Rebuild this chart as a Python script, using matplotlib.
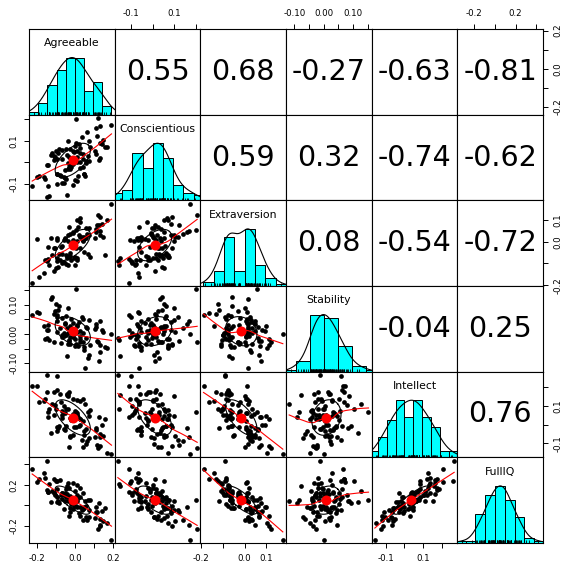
import numpy as np
import matplotlib
matplotlib.use("Agg")
import matplotlib.pyplot as plt

names = ["Agreeable", "Conscientious", "Extraversion", "Stability", "Intellect", "FullIQ"]

agreeable = [
    -0.223, -0.143, -0.186, -0.091, -0.134, -0.162, -0.094, -0.140, -0.033, -0.154,
    -0.100, -0.196, -0.068, -0.039, -0.110, -0.142, -0.078, -0.024, -0.120, -0.045,
    -0.091, 0.013, -0.109, -0.059, -0.030, -0.126, -0.001, -0.073, -0.048, -0.144,
    0.010, -0.065, -0.011, -0.086, -0.033, 0.046, -0.104, 0.000, -0.050, 0.029,
    -0.021, -0.068, 0.047, -0.039, 0.015, -0.085, 0.044, -0.006, -0.053, 0.026,
    -0.024, 0.080, -0.095, 0.009, 0.059, -0.038, 0.041, -0.009, 0.070, -0.055,
    0.024, 0.128, -0.023, 0.056, 0.006, 0.110, -0.011, 0.039, 0.158, -0.029,
    0.075, 0.025, 0.104, 0.008, 0.061, 0.140, 0.044, 0.112, 0.026, 0.130,
    0.118, 0.013, 0.145, 0.074, 0.131, 0.064, 0.171, 0.133, 0.123, 0.192]

conscientious = [
    -0.112, -0.163, -0.062, -0.103, -0.158, -0.068, 0.013, -0.110, -0.030, -0.078,
    0.050, -0.071, -0.095, -0.152, 0.010, -0.013, -0.060, -0.033, 0.045, -0.080,
    -0.053, 0.000, 0.028, -0.098, -0.020, 0.033, -0.083, -0.065, 0.060, -0.013,
    -0.088, 0.015, -0.108, 0.043, -0.005, -0.053, 0.023, 0.075, -0.075, 0.003,
    -0.023, 0.055, -0.057, 0.033, -0.065, 0.060, 0.013, 0.046, -0.035, 0.043,
    -0.008, 0.070, -0.055, 0.023, -0.003, 0.100, -0.023, 0.053, 0.030, -0.070,
    0.083, 0.010, 0.060, -0.066, 0.088, 0.040, -0.008, 0.118, 0.070, 0.023,
    0.100, -0.025, 0.053, 0.203, 0.008, 0.085, 0.038, 0.158, 0.068, 0.020,
    0.123, 0.050, 0.105, 0.008, 0.088, 0.143, 0.073, 0.168, 0.207, 0.172]

extraversion = [
    -0.189, -0.089, -0.162, -0.090, -0.106, -0.143, -0.074, -0.078, -0.108, -0.084,
    -0.123, 0.012, -0.097, -0.073, -0.133, -0.025, -0.086, -0.066, -0.059, -0.101,
    0.007, -0.075, -0.030, -0.093, -0.072, 0.018, -0.108, -0.022, -0.061, -0.082,
    0.005, -0.058, 0.008, -0.118, 0.032, -0.048, -0.029, -0.068, 0.016, 0.021,
    -0.086, -0.021, 0.024, -0.064, 0.069, -0.057, 0.009, -0.075, 0.013, -0.028,
    0.035, -0.069, 0.017, -0.085, 0.062, 0.002, 0.006, 0.046, -0.058, 0.007,
    0.031, 0.076, -0.051, 0.015, -0.027, 0.060, 0.042, 0.024, -0.061, 0.068,
    0.029, 0.092, 0.017, 0.056, 0.016, 0.082, 0.004, 0.046, 0.111, 0.030,
    0.075, 0.099, 0.020, 0.065, 0.112, 0.034, 0.102, 0.048, 0.122, 0.176]

stability = [
    0.066, -0.013, 0.071, 0.058, -0.021, 0.027, 0.064, 0.012, -0.034, -0.018,
    0.103, 0.074, -0.004, -0.076, 0.069, 0.031, 0.021, -0.012, 0.127, -0.002,
    0.043, 0.029, -0.026, 0.004, -0.019, 0.118, -0.042, -0.031, 0.062, 0.015,
    -0.038, -0.011, -0.009, 0.082, 0.002, -0.044, 0.079, -0.016, 0.033, -0.006,
    0.051, 0.056, -0.056, 0.019, -0.041, 0.094, 0.052, -0.001, 0.036, -0.027,
    -0.036, -0.039, 0.005, 0.007, -0.014, 0.088, 0.003, 0.011, -0.083, -0.008,
    0.041, -0.092, 0.026, -0.118, -0.033, 0.023, 0.038, 0.058, -0.046, -0.024,
    0.047, 0.009, 0.018, 0.153, 0.024, 0.014, -0.029, 0.034, -0.017, -0.063,
    -0.023, 0.028, 0.006, -0.071, -0.037, 0.021, -0.047, 0.045, -0.028, 0.001]

intellect = [
    0.203, 0.265, 0.120, 0.260, 0.081, 0.125, 0.182, 0.042, 0.162, 0.134,
    0.081, 0.203, 0.051, 0.158, 0.176, 0.067, 0.165, 0.037, 0.109, 0.084,
    -0.014, 0.129, 0.051, 0.101, 0.173, -0.043, 0.070, 0.118, -0.008, 0.171,
    0.062, 0.037, 0.134, -0.019, 0.082, -0.058, 0.104, 0.051, -0.027, 0.123,
    0.023, 0.071, -0.032, 0.163, 0.040, -0.009, 0.137, -0.013, 0.060, 0.032,
    -0.068, 0.079, -0.036, 0.051, -0.024, 0.152, 0.021, -0.054, 0.068, -0.022,
    -0.010, 0.038, -0.061, 0.110, -0.015, -0.031, 0.054, -0.083, 0.027, -0.121,
    0.046, -0.004, -0.067, 0.066, -0.104, -0.004, -0.118, -0.021, 0.027, -0.051,
    -0.108, 0.044, -0.062, -0.072, -0.112, -0.088, -0.152, -0.065, -0.126, -0.158]

fulliq = [
    0.350, 0.435, 0.259, 0.240, 0.207, 0.318, 0.160, 0.129, 0.218, 0.263,
    0.232, 0.227, 0.121, 0.191, 0.260, 0.130, 0.246, 0.094, 0.138, 0.163,
    0.083, 0.202, 0.122, 0.097, 0.166, 0.036, 0.136, 0.105, 0.080, 0.150,
    0.044, 0.119, 0.214, 0.039, 0.083, -0.022, 0.103, 0.047, 0.122, 0.167,
    0.017, 0.061, -0.020, 0.106, 0.075, 0.025, 0.120, -0.006, 0.039, 0.084,
    -0.067, 0.053, 0.028, 0.098, -0.003, 0.042, -0.039, -0.039, 0.056, -0.031,
    -0.075, 0.020, -0.030, 0.040, -0.011, -0.066, 0.054, -0.047, -0.027, -0.108,
    -0.044, -0.013, -0.124, 0.051, -0.117, -0.060, -0.141, -0.021, -0.102, -0.132,
    -0.063, -0.018, -0.154, -0.110, -0.196, -0.139, -0.168, -0.188, -0.231, -0.335]

# correlations printed in the upper panels (row-wise upper triangle)
correlations = [0.55, 0.68, -0.27, -0.63, -0.81,
                0.59, 0.32, -0.74, -0.62,
                0.08, -0.54, -0.72,
                -0.04, 0.25,
                0.76]

tick_values = [
    [-0.2, -0.1, 0.0, 0.1, 0.2],
    [-0.1, 0.0, 0.1, 0.2],
    [-0.2, -0.1, 0.0, 0.1],
    [-0.10, -0.05, 0.0, 0.05, 0.10, 0.15],
    [-0.1, 0.0, 0.1, 0.2],
    [-0.2, 0.0, 0.2, 0.4],
]
tick_labels = [
    ["-0.2", "", "0.0", "", "0.2"],
    ["-0.1", "", "0.1", ""],
    ["-0.2", "", "0.0", "0.1"],
    ["-0.10", "", "0.00", "", "0.10", ""],
    ["-0.1", "", "0.1", ""],
    ["-0.2", "", "0.2", ""],
]
hist_bin_width = [0.05, 0.05, 0.05, 0.05, 0.05, 0.1]

data = [np.array(v, dtype=float) for v in
        (agreeable, conscientious, extraversion, stability, intellect, fulliq)]
n_var = len(data)


def lowess(x, y, f=2.0 / 3.0, iters=3):
    order = np.argsort(x, kind="mergesort")
    x = x[order]
    y = y[order]
    n = len(x)
    r = int(np.ceil(f * n))
    h = np.array([np.sort(np.abs(x - x[i]))[r - 1] for i in range(n)])
    h[h == 0] = 1e-9
    w = np.clip(np.abs((x[:, None] - x[None, :]) / h[None, :]), 0.0, 1.0)
    w = (1 - w ** 3) ** 3
    yest = np.zeros(n)
    delta = np.ones(n)
    for _ in range(iters + 1):
        for i in range(n):
            wt = delta * w[:, i]
            A = np.array([[wt.sum(), (wt * x).sum()], [(wt * x).sum(), (wt * x * x).sum()]])
            b = np.array([(wt * y).sum(), (wt * y * x).sum()])
            beta = np.linalg.lstsq(A, b, rcond=None)[0]
            yest[i] = beta[0] + beta[1] * x[i]
        res = y - yest
        s = np.median(np.abs(res))
        if s == 0:
            break
        d = np.clip(res / (6.0 * s), -1, 1)
        delta = (1 - d ** 2) ** 2
    return x, yest


def density(x, adjust=1.2):
    n = len(x)
    sd = np.std(x, ddof=1)
    q75, q25 = np.percentile(x, [75, 25])
    bw = 1.06 * min(sd, (q75 - q25) / 1.34) * n ** (-0.2) * adjust
    grid = np.linspace(x.min() - 3 * bw, x.max() + 3 * bw, 512)
    dens = np.exp(-0.5 * ((grid[:, None] - x[None, :]) / bw) ** 2).sum(axis=1)
    return grid, dens / dens.max()


lims = []
for v in data:
    lo, hi = v.min(), v.max()
    pad = 0.04 * (hi - lo)
    lims.append((lo - pad, hi + pad))

fig = plt.figure(figsize=(5.65, 5.65), dpi=100)
W = 565.0
left0, top0, size = 29 / W, 29 / W, (543 - 29) / W / 6

tick_fs = 6.2
axis_lw = 0.7

cor_iter = iter(correlations)
cor_map = {}
for i in range(n_var):
    for j in range(i + 1, n_var):
        cor_map[(i, j)] = next(cor_iter)

for i in range(n_var):
    for j in range(n_var):
        ax = fig.add_axes([left0 + j * size, 1 - top0 - (i + 1) * size, size, size])
        for sp in ax.spines.values():
            sp.set_linewidth(0.8)
        ax.set_xticks([])
        ax.set_yticks([])
        if i == j:
            u1, u2 = lims[i]
            ax.set_xlim(u1 - abs(0.05 * u1), u2 + abs(0.05 * u2))
            ax.set_ylim(0, 1.5)
            v = data[i]
            bw_ = hist_bin_width[i]
            start = np.floor(v.min() / bw_ - 1e-9) * bw_
            stop = np.ceil(v.max() / bw_ + 1e-9) * bw_
            edges = np.arange(start, stop + bw_ / 2, bw_)
            counts, edges = np.histogram(v, bins=edges)
            heights = counts / counts.max()
            ax.bar(edges[:-1], heights, width=np.diff(edges), align="edge",
                   color="#00FFFF", edgecolor="black", linewidth=0.7)
            gx, gy = density(v)
            ax.plot(gx, gy, color="black", lw=0.8)
            ax.vlines(v, 0, 0.045, color="black", lw=0.6)
            ax.text(0.5, 0.8333, names[i], transform=ax.transAxes,
                    ha="center", va="center", fontsize=7.8)
        elif i < j:
            ax.set_xlim(*lims[j])
            ax.set_ylim(*lims[i])
            ax.text(0.5, 0.5, "%.2f" % cor_map[(i, j)], transform=ax.transAxes,
                    ha="center", va="center", fontsize=20.5)
        else:
            x = data[j]
            y = data[i]
            ax.set_xlim(*lims[j])
            ax.set_ylim(*lims[i])
            ax.plot(x, y, "o", ms=3.4, color="black", mec="none")
            xm, ym = x.mean(), y.mean()
            xs, ys = x.std(ddof=1), y.std(ddof=1)
            r = np.corrcoef(x, y)[0, 1]
            lx, ly = lowess(x, y)
            ax.plot(lx, ly, color="red", lw=0.8)
            ax.plot(xm, ym, "o", ms=7.2, color="red", mec="none")
            ang = np.linspace(0, 2 * np.pi, 52)
            theta = np.sign(r) / np.sqrt(2) if abs(r) > 0 else 1 / np.sqrt(2)
            c, s = np.cos(ang), np.sin(ang)
            ex = (c * np.sqrt(1 + r) * theta - s * np.sqrt(1 - r) * theta) * xs + xm
            ey = (c * np.sqrt(1 + r) * theta + s * np.sqrt(1 - r) * theta) * ys + ym
            ax.plot(ex, ey, color="black", lw=0.8)

        # outer axes, alternating like R's pairs()
        if i == 0 and j % 2 == 1:
            ax.xaxis.tick_top()
            ax.set_xticks(tick_values[j])
            ax.set_xticklabels(tick_labels[j])
        if i == n_var - 1 and j % 2 == 0:
            ax.set_xticks(tick_values[j])
            ax.set_xticklabels(tick_labels[j])
        if j == 0 and i % 2 == 1:
            ax.set_yticks(tick_values[i])
            ax.set_yticklabels(tick_labels[i], rotation=90, va="center")
        if j == n_var - 1 and i % 2 == 0:
            ax.yaxis.tick_right()
            ax.set_yticks(tick_values[i])
            ax.set_yticklabels(tick_labels[i], rotation=90, va="center")
        ax.tick_params(direction="out", length=3.6, width=axis_lw,
                       labelsize=tick_fs, pad=4.0)

fig.savefig("out.png", dpi=100)
